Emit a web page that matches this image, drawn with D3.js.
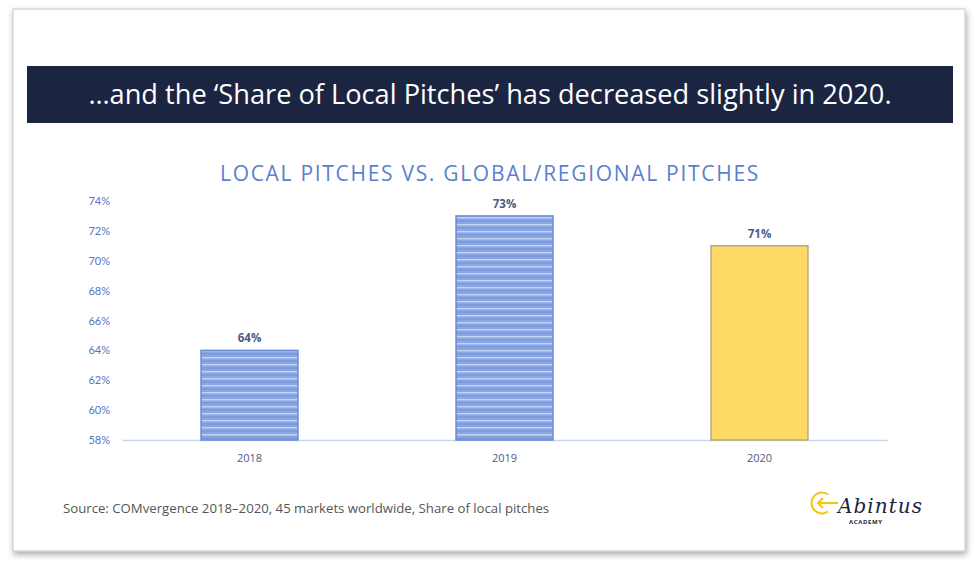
<!DOCTYPE html>
<html><head><meta charset="utf-8">
<script src="https://cdn.jsdelivr.net/npm/d3@7"></script>
<style>body{margin:0;background:#fff;}svg{display:block;}</style>
</head><body>
<script>
const categories = ["2018", "2019", "2020"];
const values = [64, 73, 71];
const yTicks = [58, 60, 62, 64, 66, 68, 70, 72, 74];
const headline = "…and the ‘Share of Local Pitches’ has decreased slightly in 2020.";
const chartTitle = "LOCAL PITCHES VS. GLOBAL/REGIONAL PITCHES";
const source = "Source: COMvergence 2018–2020, 45 markets worldwide, Share of local pitches";

const W = 979, H = 566;
const svg = d3.select("body").append("svg").attr("width", W).attr("height", H);
const defs = svg.append("defs");
const f = defs.append("filter").attr("id","shadow").attr("x","-5%").attr("y","-5%").attr("width","110%").attr("height","115%");
f.append("feDropShadow").attr("dx",1).attr("dy",3).attr("stdDeviation",3).attr("flood-color","#000").attr("flood-opacity",0.35);

const pat = defs.append("pattern").attr("id","stripes").attr("patternUnits","userSpaceOnUse").attr("width",8).attr("height",7);
pat.append("rect").attr("width",8).attr("height",7).attr("fill","#8aa7e4");
pat.append("rect").attr("y",0).attr("width",8).attr("height",1.4).attr("fill","#c3d3f4");
pat.append("rect").attr("y",3.5).attr("width",8).attr("height",1).attr("fill","#7394dc");

// slide frame
svg.append("rect").attr("x",13).attr("y",9).attr("width",952).attr("height",542)
  .attr("fill","#fff").attr("stroke","#c8c8c8").attr("stroke-width",1).attr("filter","url(#shadow)");

// banner
svg.append("rect").attr("x",27).attr("y",66).attr("width",926).attr("height",57).attr("fill","#1b2541");
svg.append("text").attr("x",490).attr("y",104).attr("text-anchor","middle")
  .attr("font-family","'Open Sans', sans-serif").attr("font-size",27.2).attr("fill","#ffffff").text(headline);

// chart title
svg.append("text").attr("x",490).attr("y",181).attr("text-anchor","middle")
  .attr("font-family","'Open Sans', sans-serif").attr("font-size",21).attr("letter-spacing",1.7)
  .attr("fill","#5b7fcf").text(chartTitle);

const x = d3.scaleBand().domain(categories).range([122, 887]).paddingInner(0.62).paddingOuter(0.31);
const y = d3.scaleLinear().domain([58, 74]).range([440, 201]);

// y axis labels
const yAxis = d3.axisLeft(y).tickValues(yTicks).tickFormat(d => d + "%").tickSize(0).tickPadding(0);
const ya = svg.append("g").attr("transform","translate(110,0)").call(yAxis);
ya.select(".domain").remove();
ya.selectAll("text").attr("font-family","Lato, 'Open Sans', sans-serif").attr("font-size",11).attr("fill","#5574c4");

// baseline
const xa = svg.append("g").attr("transform","translate(0,440)").call(d3.axisBottom(x).tickSize(0).tickPadding(14));
xa.select(".domain").attr("stroke","#c9d6f0").attr("stroke-width",1.5);
xa.selectAll("text").attr("font-family","'Open Sans', sans-serif").attr("font-size",11).attr("fill","#4d5b85");

// bars
const data = categories.map((c,i)=>({c, v: values[i], i}));
svg.append("g").selectAll("rect").data(data).join("rect")
  .attr("x", d => x(d.c)).attr("y", d => y(d.v))
  .attr("width", x.bandwidth()).attr("height", d => y(58) - y(d.v))
  .attr("fill", d => d.i === 2 ? "#ffd966" : "url(#stripes)")
  .attr("stroke", d => d.i === 2 ? "#b3ab86" : "#6a8ad6").attr("stroke-width", 1.5);

svg.append("g").selectAll("text").data(data).join("text")
  .attr("x", d => x(d.c) + x.bandwidth()/2).attr("y", d => y(d.v) - 8)
  .attr("text-anchor","middle").attr("font-family","'Open Sans', sans-serif").attr("font-weight","bold")
  .attr("font-size",11.5).attr("fill","#4d5b85").text(d => d.v + "%");

// source
svg.append("text").attr("x",63).attr("y",513).attr("font-family","'Open Sans', sans-serif")
  .attr("font-size",13.2).attr("fill","#555").text(source);

// logo
const lg = svg.append("g");
lg.append("path").attr("d", d3.arc()({innerRadius:9.5, outerRadius:11.5, startAngle: 0.3*Math.PI, endAngle: 1.7*Math.PI}))
  .attr("transform","translate(822,503) rotate(90)").attr("fill","#f5c518");
lg.append("line").attr("x1",818).attr("y1",503).attr("x2",838).attr("y2",503).attr("stroke","#f5c518").attr("stroke-width",2.2);
lg.append("path").attr("d","M823,498 L818,503 L823,508").attr("fill","none").attr("stroke","#f5c518").attr("stroke-width",2.2);
lg.append("text").attr("x",838).attr("y",513).attr("font-family","'DejaVu Serif', serif").attr("font-style","italic")
  .attr("font-size",20).attr("textLength",84).attr("fill","#1b2541").text("Abintus");
lg.append("text").attr("x",849).attr("y",524).attr("font-family","'Open Sans', sans-serif").attr("font-weight","bold")
  .attr("font-size",6).attr("letter-spacing",0.6).attr("fill","#1b2541").text("ACADEMY");
</script>
</body></html>
